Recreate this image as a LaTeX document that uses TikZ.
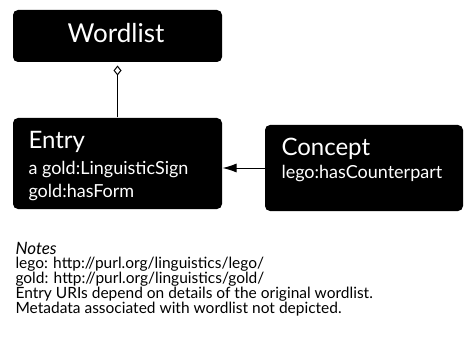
\documentclass[tikz,border=0pt]{standalone}
\usepackage{fontspec}
\setmainfont{Lato}
\usetikzlibrary{arrows.meta,positioning}
\tikzstyle{classbox}=[rectangle,rounded corners=5pt,fill=black,inner sep=0pt]
\tikzstyle{title}=[text=white,inner sep=0pt,anchor=base west,font=\fontsize{24}{28}\selectfont]
\tikzstyle{props}=[text=white,inner sep=0pt,anchor=base west,font=\fontsize{18}{23}\selectfont]
\tikzstyle{note}=[inner sep=0pt,anchor=base west,font=\fontsize{15.5}{15}\selectfont]

\begin{document}
\begin{tikzpicture}[x=1pt,y=-1pt,line width=1pt]
\useasboundingbox (0,0) rectangle (465,339);
% classes
\node[classbox,minimum width=209pt,minimum height=52pt] at (117.5,36) (wordlist) {};
\node[title,anchor=base,font=\fontsize{26}{30}\selectfont] at (116,42.5) (wordlisttitle) {Wordlist};
\node[classbox,minimum width=209pt,minimum height=91pt] at (117.5,163.5) (entry) {};
\node[title] at (28,149) (entrytitle) {Entry};
\node[props] at (28,174) (entryprop1) {a gold:LinguisticSign};
\node[props] at (28,197) (entryprop2) {gold:hasForm};
\node[classbox,minimum width=198pt,minimum height=86pt] at (364,168) (concept) {};
\node[title] at (281,156) (concepttitle) {Concept};
\node[props] at (281,178) (conceptprop1) {lego:hasCounterpart};
% links
\draw[-{Diamond[open,length=10pt,width=8pt]},shorten >=3pt] (entry.north) -- (wordlist.south);
\draw[-{Latex[length=14pt,width=9pt]}] (concept.west) -- (concept.west -| entry.east);
% notes
\node[note,font=\fontsize{17}{17}\selectfont\itshape] at (15,254) (notes) {Notes};
\foreach \txt [count=\i] in {lego: http://purl.org/linguistics/lego/,
  gold: http://purl.org/linguistics/gold/,
  Entry URIs depend on details of the original wordlist.,
  Metadata associated with wordlist not depicted.}
  \node[note] at (15,254+14.8*\i) (note\i) {\txt};
\end{tikzpicture}
\end{document}
